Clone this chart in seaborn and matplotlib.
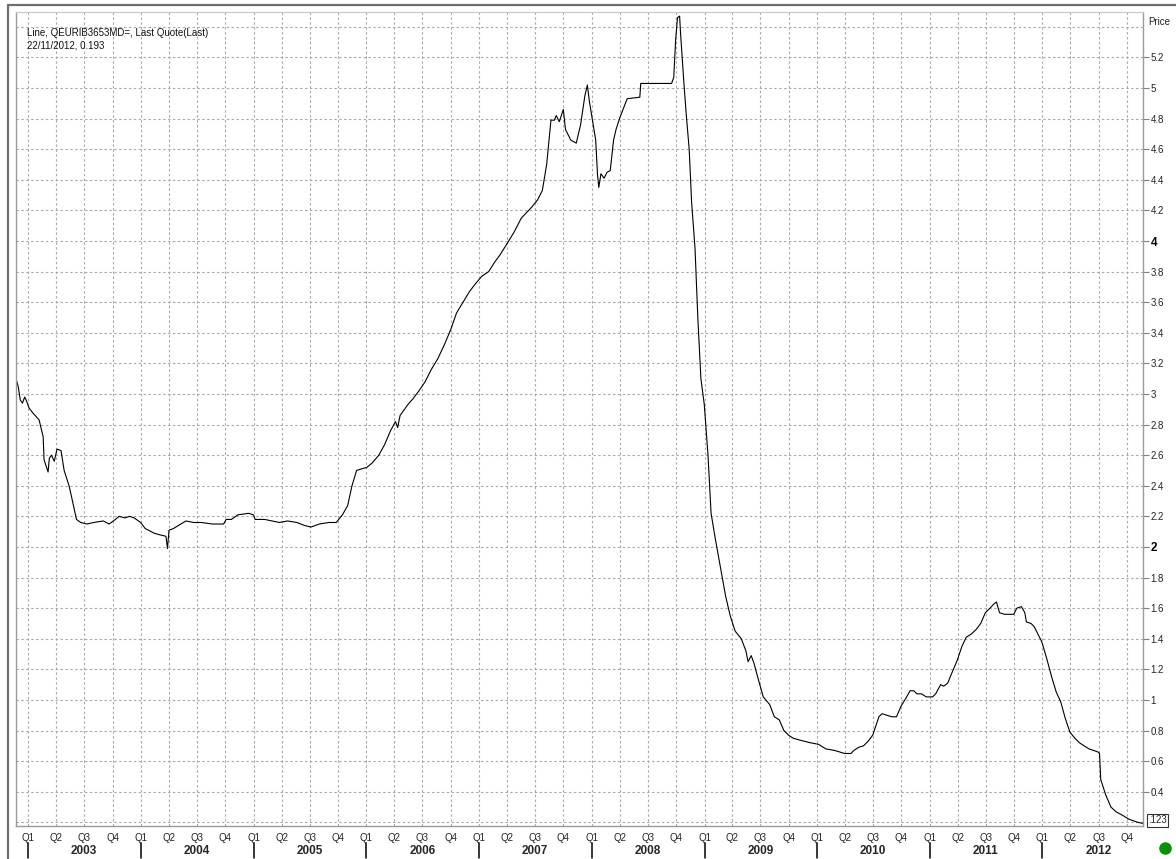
import matplotlib
matplotlib.use("Agg")
import matplotlib.pyplot as plt
import matplotlib.lines as mlines
import seaborn as sns
import pandas as pd

# ---------------- data ----------------
dates = [
    "2002-11-22", "2002-11-29", "2002-12-06", "2002-12-13", "2002-12-20", "2002-12-27",
    "2003-01-03", "2003-01-14", "2003-02-05", "2003-02-18", "2003-02-21", "2003-03-06",
    "2003-03-10", "2003-03-17", "2003-03-26", "2003-04-04", "2003-04-17", "2003-04-27",
    "2003-05-13", "2003-05-23", "2003-06-06", "2003-06-20", "2003-07-10", "2003-08-01",
    "2003-09-01", "2003-09-20", "2003-10-10", "2003-10-22", "2003-11-10", "2003-11-25",
    "2003-12-10", "2003-12-31", "2004-01-15", "2004-01-25", "2004-02-13", "2004-03-01",
    "2004-03-22", "2004-03-27", "2004-04-01", "2004-04-15", "2004-05-01", "2004-05-26",
    "2004-06-20", "2004-07-15", "2004-08-20", "2004-09-25", "2004-10-03", "2004-10-20",
    "2004-11-10", "2004-12-15", "2004-12-31", "2005-01-05", "2005-02-05", "2005-03-25",
    "2005-04-20", "2005-05-20", "2005-06-15", "2005-07-05", "2005-08-01", "2005-09-01",
    "2005-09-25", "2005-10-15", "2005-11-01", "2005-11-15", "2005-11-30", "2005-12-15",
    "2006-01-02", "2006-01-20", "2006-02-10", "2006-03-01", "2006-03-20", "2006-04-05",
    "2006-04-12", "2006-04-20", "2006-05-15", "2006-06-01", "2006-06-20", "2006-07-10",
    "2006-07-30", "2006-08-20", "2006-09-10", "2006-10-01", "2006-10-20", "2006-11-10",
    "2006-12-01", "2006-12-20", "2007-01-10", "2007-02-01", "2007-02-20", "2007-03-10",
    "2007-04-01", "2007-04-25", "2007-05-18", "2007-06-20", "2007-07-10", "2007-07-25",
    "2007-08-08", "2007-08-22", "2007-09-02", "2007-09-08", "2007-09-18", "2007-10-01",
    "2007-10-08", "2007-10-25", "2007-11-12", "2007-11-26", "2007-12-10", "2007-12-18",
    "2007-12-24", "2008-01-01", "2008-01-14", "2008-01-20", "2008-01-24", "2008-01-31",
    "2008-02-10", "2008-02-20", "2008-03-01", "2008-03-12", "2008-03-20", "2008-04-02",
    "2008-04-25", "2008-06-05", "2008-06-08", "2008-07-01", "2008-08-01", "2008-09-16",
    "2008-09-23", "2008-09-29", "2008-10-05", "2008-10-12", "2008-10-15", "2008-10-26",
    "2008-11-02", "2008-11-12", "2008-11-20", "2008-12-01", "2008-12-10", "2008-12-20",
    "2008-12-31", "2009-01-12", "2009-01-22", "2009-02-05", "2009-02-20", "2009-03-10",
    "2009-03-25", "2009-04-10", "2009-04-30", "2009-05-15", "2009-05-22", "2009-06-01",
    "2009-06-10", "2009-06-22", "2009-07-10", "2009-07-31", "2009-08-15", "2009-08-31",
    "2009-09-15", "2009-09-30", "2009-10-15", "2009-11-01", "2009-11-20", "2009-12-10",
    "2010-01-05", "2010-01-29", "2010-02-26", "2010-03-31", "2010-04-20", "2010-04-30",
    "2010-05-15", "2010-05-31", "2010-06-15", "2010-06-30", "2010-07-10", "2010-07-20",
    "2010-07-30", "2010-08-15", "2010-08-31", "2010-09-15", "2010-09-30", "2010-10-15",
    "2010-10-29", "2010-11-10", "2010-11-20", "2010-12-05", "2010-12-20", "2011-01-10",
    "2011-01-20", "2011-02-05", "2011-02-15", "2011-02-28", "2011-03-10", "2011-03-31",
    "2011-04-15", "2011-04-29", "2011-05-15", "2011-05-31", "2011-06-15", "2011-06-30",
    "2011-07-15", "2011-07-29", "2011-08-05", "2011-08-15", "2011-08-31", "2011-09-15",
    "2011-09-30", "2011-10-10", "2011-10-25", "2011-11-05", "2011-11-10", "2011-11-25",
    "2011-12-05", "2011-12-15", "2011-12-30", "2012-01-15", "2012-01-31", "2012-02-15",
    "2012-02-29", "2012-03-15", "2012-03-30", "2012-04-15", "2012-04-30", "2012-05-15",
    "2012-05-31", "2012-06-15", "2012-06-29", "2012-07-04", "2012-07-08", "2012-07-24",
    "2012-08-10", "2012-08-26", "2012-09-13", "2012-10-08", "2012-11-05", "2012-11-22",
]
values = [
    3.10, 3.05, 2.96, 2.94, 2.98, 2.95,
    2.91, 2.88, 2.83, 2.72, 2.57, 2.49,
    2.58, 2.60, 2.56, 2.64, 2.63, 2.50,
    2.40, 2.31, 2.18, 2.16, 2.15, 2.16,
    2.17, 2.15, 2.18, 2.20, 2.19, 2.20,
    2.19, 2.16, 2.12, 2.11, 2.09, 2.08,
    2.07, 1.99, 2.11, 2.12, 2.14, 2.17,
    2.16, 2.16, 2.15, 2.15, 2.18, 2.18,
    2.21, 2.22, 2.21, 2.18, 2.18, 2.16,
    2.17, 2.16, 2.14, 2.13, 2.15, 2.16,
    2.16, 2.21, 2.27, 2.40, 2.50, 2.51,
    2.52, 2.55, 2.60, 2.67, 2.76, 2.82,
    2.78, 2.86, 2.93, 2.97, 3.02, 3.08,
    3.16, 3.23, 3.32, 3.42, 3.53, 3.60,
    3.67, 3.72, 3.77, 3.80, 3.86, 3.91,
    3.98, 4.06, 4.15, 4.22, 4.27, 4.33,
    4.50, 4.79, 4.79, 4.82, 4.78, 4.86,
    4.73, 4.66, 4.64, 4.76, 4.95, 5.02,
    4.92, 4.82, 4.66, 4.43, 4.35, 4.44,
    4.41, 4.45, 4.46, 4.66, 4.73, 4.81,
    4.93, 4.94, 5.03, 5.03, 5.03, 5.03,
    5.07, 5.31, 5.46, 5.47, 5.36, 5.03,
    4.84, 4.60, 4.25, 3.95, 3.50, 3.10,
    2.93, 2.60, 2.22, 2.05, 1.88, 1.68,
    1.55, 1.45, 1.40, 1.32, 1.25, 1.29,
    1.24, 1.15, 1.02, 0.97, 0.89, 0.87,
    0.80, 0.77, 0.75, 0.74, 0.73, 0.72,
    0.71, 0.68, 0.67, 0.65, 0.65, 0.67,
    0.69, 0.70, 0.73, 0.77, 0.83, 0.89,
    0.91, 0.90, 0.89, 0.89, 0.96, 1.01,
    1.06, 1.06, 1.04, 1.04, 1.02, 1.02,
    1.04, 1.10, 1.09, 1.11, 1.16, 1.26,
    1.35, 1.41, 1.43, 1.46, 1.50, 1.57,
    1.60, 1.63, 1.64, 1.57, 1.56, 1.56,
    1.56, 1.60, 1.61, 1.57, 1.51, 1.50,
    1.48, 1.44, 1.38, 1.27, 1.15, 1.05,
    0.99, 0.88, 0.79, 0.75, 0.72, 0.70,
    0.68, 0.67, 0.66, 0.65, 0.48, 0.38,
    0.30, 0.27, 0.25, 0.22, 0.20, 0.193,
]
ytick_values = [0.4, 0.6, 0.8, 1.0, 1.2, 1.4, 1.6, 1.8, 2.0, 2.2, 2.4, 2.6, 2.8, 3.0,
                3.2, 3.4, 3.6, 3.8, 4.0, 4.2, 4.4, 4.6, 4.8, 5.0, 5.2]
ytick_labels = ["0.4", "0.6", "0.8", "1", "1.2", "1.4", "1.6", "1.8", "2", "2.2", "2.4",
                "2.6", "2.8", "3", "3.2", "3.4", "3.6", "3.8", "4", "4.2", "4.4", "4.6",
                "4.8", "5", "5.2"]
years = [2003, 2004, 2005, 2006, 2007, 2008, 2009, 2010, 2011, 2012]
quarter_labels = ["Q1", "Q2", "Q3", "Q4"]
title_line1 = "Line, QEURIB3653MD=, Last Quote(Last)"
title_line2 = "22/11/2012, 0.193"
last_box_text = ".123"

df = pd.DataFrame({"date": pd.to_datetime(dates), "value": values})

# ---------------- style ----------------
sns.set_style("white")
plt.rcParams["font.family"] = ["Liberation Sans", "DejaVu Sans"]

W, H = 1176, 859
fig = plt.figure(figsize=(W / 100, H / 100), dpi=100)
L, R, T, B = 16, 1143, 12, 826
ax = fig.add_axes([L / W, (H - B) / H, (R - L) / W, (B - T) / H])

sns.lineplot(data=df, x="date", y="value", ax=ax, color="black", linewidth=0.8)

ax.set_xlim(pd.Timestamp("2002-11-22"), pd.Timestamp("2012-11-22"))
ax.set_ylim(0.176, 5.497)
ax.set_xlabel("")
ax.set_ylabel("")

grid_col = "#a8a8b0"
# y axis on the right
ax.yaxis.tick_right()
ax.set_yticks(ytick_values)
ax.set_yticklabels(ytick_labels)
ax.set_yticks([0.2, 5.4], minor=True)
ax.tick_params(axis="y", which="major", length=4, width=0.8, color="#808080",
               labelsize=7, pad=1.5, labelcolor="#222222")
ax.tick_params(axis="y", which="minor", length=0)
for lab in ax.get_yticklabels():
    if lab.get_text() in ("2", "4"):
        lab.set_fontweight("bold")
        lab.set_fontsize(8.5)
        lab.set_color("black")

# x axis quarters
qdates = pd.date_range("2003-01-01", "2012-10-01", freq="QS")
ax.set_xticks(qdates)
ax.set_xticklabels([quarter_labels[(d.month - 1) // 3] for d in qdates])
ax.tick_params(axis="x", which="major", length=0, labelsize=7, pad=5, labelcolor="#222222")

ax.grid(True, which="both", axis="both", color=grid_col, linestyle=(0, (2.2, 2.2)),
        linewidth=0.8)
ax.set_axisbelow(True)

for side in ["left", "bottom", "right"]:
    ax.spines[side].set_color("#9a9a9a")
    ax.spines[side].set_linewidth(1.0)
ax.spines["top"].set_color("#c8c8c8")
ax.spines["top"].set_linewidth(0.8)

# year labels and separators
xt = ax.get_xaxis_transform()
y_year = (H - 851 - (H - B)) / (B - T)
y_sep0 = (H - 843 - (H - B)) / (B - T)
y_sep1 = (H - 858 - (H - B)) / (B - T)
for yr in years:
    ax.text(pd.Timestamp(f"{yr}-07-01"), y_year, str(yr), transform=xt, ha="center",
            va="center", fontsize=8.5, fontweight="bold", clip_on=False)
    ax.plot([pd.Timestamp(f"{yr}-01-01")] * 2, [y_sep0, y_sep1], transform=xt,
            color="black", linewidth=1.1, clip_on=False)

# price header
fig.text(1148 / W, (H - 22) / H, "Price", fontsize=7, ha="left", va="center", color="#222222")

# legend text
fig.text(27 / W, (H - 33) / H, title_line1, fontsize=7, ha="left", va="center", color="#111111")
fig.text(27 / W, (H - 46) / H, title_line2, fontsize=7, ha="left", va="center", color="#111111")

# last value box
yt = ax.get_yaxis_transform()
ax.text(1.0045, values[-1] + 0.02, last_box_text, transform=yt, fontsize=7, ha="left",
        va="center", clip_on=False,
        bbox=dict(boxstyle="square,pad=0.15", fc="white", ec="#333333", lw=0.8))

# green status dot
fig.add_artist(mlines.Line2D([1165 / W], [(H - 848) / H], marker="o", markersize=8,
                             color="#079107", transform=fig.transFigure, linestyle="none"))

# outer frame (left and top)
fig.add_artist(mlines.Line2D([8 / W, 8 / W], [0, (H - 5) / H], color="#6e6e6e",
                             linewidth=1.6, transform=fig.transFigure))
fig.add_artist(mlines.Line2D([8 / W, 1], [(H - 5) / H, (H - 5) / H], color="#6e6e6e",
                             linewidth=1.6, transform=fig.transFigure))

fig.savefig("out.png", dpi=100, facecolor="white")
